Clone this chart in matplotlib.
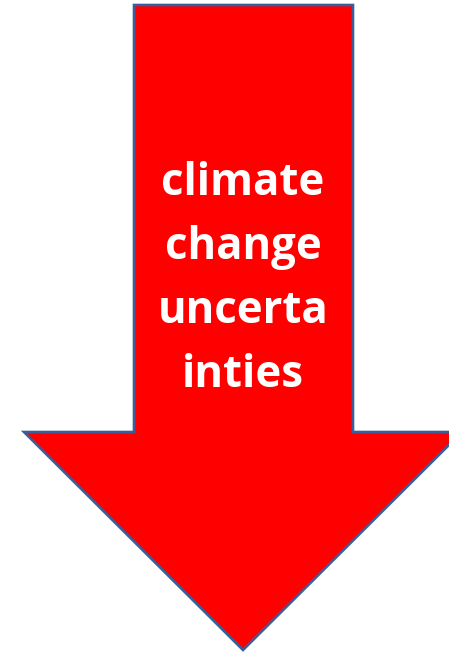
import matplotlib
matplotlib.use("Agg")
import matplotlib.pyplot as plt
from matplotlib.patches import Polygon

# Data
label_lines = ["climate", "change", "uncerta", "inties"]
fill_color = "#FF0000"
edge_color = "#3B5E9A"

W, H = 449, 652
fig = plt.figure(figsize=(W / 100, H / 100), dpi=100)
ax = fig.add_axes([0, 0, 1, 1])
ax.set_xlim(0, W)
ax.set_ylim(H, 0)
ax.axis("off")

shaft_l, shaft_r, top, shaft_b = 134, 353, 5, 432
head_l, head_r, tip_x, tip_y = 24, 462, 243, 650
verts = [(shaft_l, top), (shaft_r, top), (shaft_r, shaft_b), (head_r, shaft_b),
         (tip_x, tip_y), (head_l, shaft_b), (shaft_l, shaft_b)]
ax.add_patch(Polygon(verts, closed=True, facecolor=fill_color, edgecolor=edge_color,
                     linewidth=1.9, joinstyle="miter", clip_on=True))

baselines = [195, 259, 323, 387]
for line, yb in zip(label_lines, baselines):
    ax.text(243, yb, line, color="white", fontsize=31.5, fontweight="bold",
            family="Open Sans", ha="center", va="baseline")

fig.savefig("out.png", dpi=100)
